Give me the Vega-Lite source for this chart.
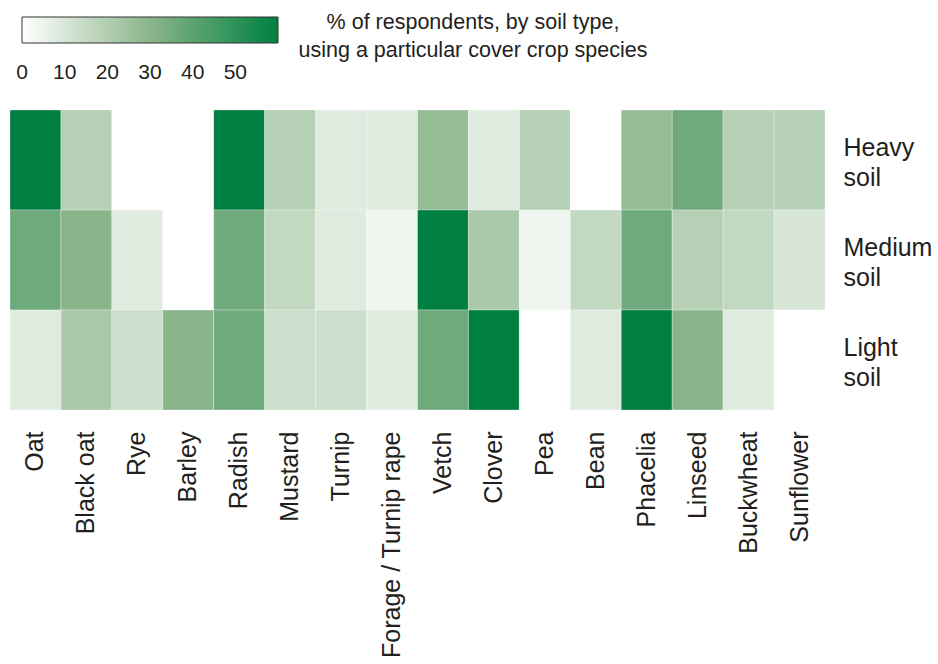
{
  "$schema": "https://vega.github.io/schema/vega-lite/v6.json",
  "width": 815,
  "height": 300,
  "autosize": {"type": "none"},
  "padding": {"left": 10, "top": 110, "right": 113, "bottom": 254},
  "background": "white",
  "config": {"view": {"stroke": null}, "font": "Liberation Sans"},
  "title": {
    "text": ["% of respondents, by soil type,", "using a particular cover crop species"],
    "anchor": "start",
    "frame": "group",
    "align": "center",
    "dx": 463,
    "offset": 0,
    "dy": 44,
    "fontSize": 21.5,
    "fontWeight": "normal",
    "lineHeight": 28,
    "color": "#231f20",
    "font": "Liberation Sans"
  },
  "data": {
    "values": [
      {"crop": "Oat", "soil": "Heavy soil", "pct": 60},
      {"crop": "Black oat", "soil": "Heavy soil", "pct": 19},
      {"crop": "Rye", "soil": "Heavy soil", "pct": 0},
      {"crop": "Barley", "soil": "Heavy soil", "pct": 0},
      {"crop": "Radish", "soil": "Heavy soil", "pct": 60},
      {"crop": "Mustard", "soil": "Heavy soil", "pct": 19},
      {"crop": "Turnip", "soil": "Heavy soil", "pct": 8},
      {"crop": "Forage / Turnip rape", "soil": "Heavy soil", "pct": 8},
      {"crop": "Vetch", "soil": "Heavy soil", "pct": 27},
      {"crop": "Clover", "soil": "Heavy soil", "pct": 8},
      {"crop": "Pea", "soil": "Heavy soil", "pct": 19},
      {"crop": "Bean", "soil": "Heavy soil", "pct": 0},
      {"crop": "Phacelia", "soil": "Heavy soil", "pct": 27},
      {"crop": "Linseed", "soil": "Heavy soil", "pct": 36},
      {"crop": "Buckwheat", "soil": "Heavy soil", "pct": 19},
      {"crop": "Sunflower", "soil": "Heavy soil", "pct": 19},
      {"crop": "Oat", "soil": "Medium soil", "pct": 36},
      {"crop": "Black oat", "soil": "Medium soil", "pct": 30},
      {"crop": "Rye", "soil": "Medium soil", "pct": 8},
      {"crop": "Barley", "soil": "Medium soil", "pct": 0},
      {"crop": "Radish", "soil": "Medium soil", "pct": 36},
      {"crop": "Mustard", "soil": "Medium soil", "pct": 16},
      {"crop": "Turnip", "soil": "Medium soil", "pct": 8},
      {"crop": "Forage / Turnip rape", "soil": "Medium soil", "pct": 4},
      {"crop": "Vetch", "soil": "Medium soil", "pct": 60},
      {"crop": "Clover", "soil": "Medium soil", "pct": 22},
      {"crop": "Pea", "soil": "Medium soil", "pct": 4},
      {"crop": "Bean", "soil": "Medium soil", "pct": 16},
      {"crop": "Phacelia", "soil": "Medium soil", "pct": 36},
      {"crop": "Linseed", "soil": "Medium soil", "pct": 19},
      {"crop": "Buckwheat", "soil": "Medium soil", "pct": 16},
      {"crop": "Sunflower", "soil": "Medium soil", "pct": 10},
      {"crop": "Oat", "soil": "Light soil", "pct": 8},
      {"crop": "Black oat", "soil": "Light soil", "pct": 22},
      {"crop": "Rye", "soil": "Light soil", "pct": 13},
      {"crop": "Barley", "soil": "Light soil", "pct": 30},
      {"crop": "Radish", "soil": "Light soil", "pct": 36},
      {"crop": "Mustard", "soil": "Light soil", "pct": 13},
      {"crop": "Turnip", "soil": "Light soil", "pct": 13},
      {"crop": "Forage / Turnip rape", "soil": "Light soil", "pct": 8},
      {"crop": "Vetch", "soil": "Light soil", "pct": 36},
      {"crop": "Clover", "soil": "Light soil", "pct": 60},
      {"crop": "Pea", "soil": "Light soil", "pct": 0},
      {"crop": "Bean", "soil": "Light soil", "pct": 8},
      {"crop": "Phacelia", "soil": "Light soil", "pct": 60},
      {"crop": "Linseed", "soil": "Light soil", "pct": 30},
      {"crop": "Buckwheat", "soil": "Light soil", "pct": 8},
      {"crop": "Sunflower", "soil": "Light soil", "pct": 0}
    ]
  },
  "mark": {"type": "rect", "stroke": "#ffffff", "strokeWidth": 0.5, "strokeOpacity": 0.6},
  "encoding": {
    "x": {
      "field": "crop",
      "type": "nominal",
      "sort": null,
      "scale": {"paddingInner": 0, "paddingOuter": 0},
      "axis": {
        "title": null,
        "orient": "bottom",
        "labelAngle": -90,
        "labelAlign": "right",
        "labelBaseline": "middle",
        "labelFontSize": 25,
        "labelColor": "#231f20",
        "labelPadding": 21,
        "labelLimit": 0,
        "ticks": false,
        "domain": false,
        "labelFont": "Liberation Sans"
      }
    },
    "y": {
      "field": "soil",
      "type": "nominal",
      "sort": ["Heavy soil", "Medium soil", "Light soil"],
      "scale": {"paddingInner": 0, "paddingOuter": 0},
      "axis": {
        "title": null,
        "orient": "right",
        "labelExpr": "split(datum.label, ' ')",
        "labelFontSize": 25,
        "labelLineHeight": 30,
        "labelColor": "#231f20",
        "labelPadding": 18,
        "labelAlign": "left",
        "labelBaseline": "middle",
        "labelOffset": -12,
        "labelLimit": 0,
        "ticks": false,
        "domain": false,
        "labelFont": "Liberation Sans"
      }
    },
    "color": {
      "field": "pct",
      "type": "quantitative",
      "scale": {
        "domain": [0, 30, 60],
        "range": ["#ffffff", "#8ab58a", "#008040"],
        "interpolate": "rgb",
        "clamp": true
      },
      "legend": {
        "title": null,
        "orient": "none",
        "direction": "horizontal",
        "legendX": 12,
        "legendY": -93,
        "gradientLength": 256,
        "gradientThickness": 26,
        "gradientStrokeColor": "#333333",
        "gradientStrokeWidth": 1,
        "values": [0, 10, 20, 30, 40, 50],
        "labelFontSize": 21,
        "labelColor": "#231f20",
        "labelOffset": 19,
        "labelAlign": "center",
        "labelOverlap": false,
        "labelFont": "Liberation Sans",
        "encode": {"labels": {"update": {"align": {"value": "center"}}}}
      }
    }
  }
}
